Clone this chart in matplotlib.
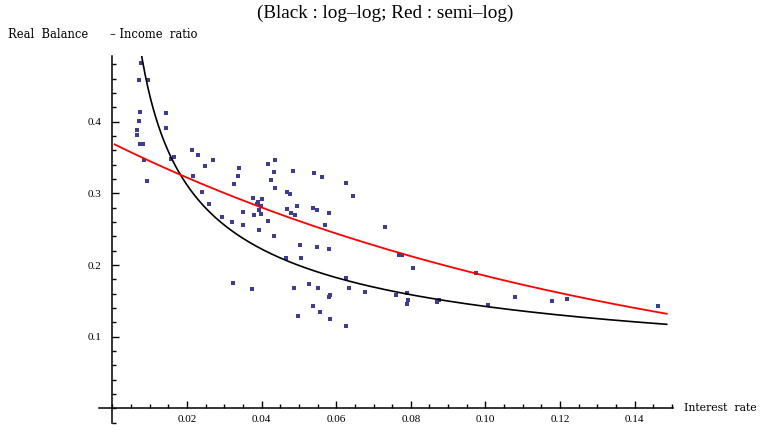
import numpy as np
import matplotlib.pyplot as plt
from matplotlib.ticker import MultipleLocator, FixedLocator

# scatter points
interest_rate = [0.00777, 0.00718, 0.00965, 0.00737, 0.01434, 0.00702, 0.01448, 0.00670,
                 0.00670, 0.00737, 0.00818, 0.00853, 0.00925, 0.01582, 0.01657, 0.02123,
                 0.02284, 0.02686, 0.02488, 0.02150, 0.02413, 0.02587, 0.02930, 0.03217,
                 0.03507, 0.03257, 0.03378, 0.03399, 0.04177, 0.04362, 0.04330, 0.04241,
                 0.04362, 0.03775, 0.03909, 0.04000, 0.03866, 0.03973, 0.03936, 0.03973,
                 0.03507, 0.03802, 0.04177, 0.03920, 0.04330, 0.04692, 0.04759, 0.04847,
                 0.04678, 0.04786, 0.04893, 0.04954, 0.05375, 0.05496, 0.05416, 0.05611,
                 0.05810, 0.05702, 0.06268, 0.06448, 0.05040, 0.05483, 0.05818, 0.04651,
                 0.05046, 0.07306, 0.07694, 0.07761, 0.08070, 0.09745, 0.06260, 0.03239,
                 0.03732, 0.04858, 0.05276, 0.05523, 0.05796, 0.05831, 0.06332, 0.06761,
                 0.07606, 0.07909, 0.07922, 0.07887, 0.08761, 0.08713, 0.10059, 0.10804,
                 0.11788, 0.12177, 0.14625, 0.05375, 0.05576, 0.04981, 0.05845, 0.06268]
balance_ratio = [0.4824, 0.4580, 0.4580, 0.4127, 0.4120, 0.4013, 0.3911, 0.3883,
                 0.3813, 0.3688, 0.3688, 0.3464, 0.3172, 0.3485, 0.3502, 0.3604,
                 0.3530, 0.3471, 0.3374, 0.3248, 0.3015, 0.2855, 0.2667, 0.2593,
                 0.2558, 0.3123, 0.3237, 0.3356, 0.3411, 0.3464, 0.3293, 0.3186,
                 0.3078, 0.2939, 0.2883, 0.2921, 0.2847, 0.2827, 0.2767, 0.2707,
                 0.2743, 0.2693, 0.2616, 0.2488, 0.2404, 0.3022, 0.2990, 0.3311,
                 0.2781, 0.2732, 0.2697, 0.2819, 0.2795, 0.2774, 0.3279, 0.3227,
                 0.2721, 0.2555, 0.3148, 0.2969, 0.2275, 0.2247, 0.2230, 0.2093,
                 0.2093, 0.2526, 0.2135, 0.2133, 0.1958, 0.1884, 0.1815, 0.1753,
                 0.1661, 0.1679, 0.1732, 0.1679, 0.1558, 0.1577, 0.1679, 0.1623,
                 0.1577, 0.1616, 0.1508, 0.1460, 0.1512, 0.1488, 0.1446, 0.1547,
                 0.1502, 0.1523, 0.1432, 0.1425, 0.1338, 0.1293, 0.1243, 0.1149]

# fitted models (coefficients)
loglog_a, loglog_b = 0.04635, -0.487     # y = a * x^b
semilog_a, semilog_b = 0.3697, -6.93     # y = a * exp(b x)

xticks = [0.02, 0.04, 0.06, 0.08, 0.10, 0.12, 0.14]
xticklabels = ['0.02', '0.04', '0.06', '0.08', '0.10', '0.12', '0.14']
yticks = [0.1, 0.2, 0.3, 0.4]
yticklabels = ['0.1', '0.2', '0.3', '0.4']

plt.rcParams['font.family'] = ['Liberation Serif', 'DejaVu Serif']

fig = plt.figure(figsize=(7.65, 4.32), dpi=100)
ax = fig.add_axes([0.1299, 0.0197, 0.7494, 0.8507])

xs = np.linspace(0.0006, 0.1486, 400)
ax.plot(xs, loglog_a * xs ** loglog_b, color='black', lw=1.2, zorder=3)
ax.plot(xs, semilog_a * np.exp(semilog_b * xs), color='#ff0000', lw=1.3, zorder=3)
ax.plot(interest_rate, balance_ratio, 's', color='#3d3d99', ms=3.5, mew=0, zorder=2)

ax.set_xlim(-0.0035, 0.1502)
ax.set_ylim(-0.021, 0.4915)

for s in ['top', 'right']:
    ax.spines[s].set_visible(False)
ax.spines['left'].set_position(('data', 0))
ax.spines['bottom'].set_position(('data', 0))
ax.spines['left'].set_linewidth(1.1)
ax.spines['bottom'].set_linewidth(1.1)

ax.xaxis.set_major_locator(FixedLocator(xticks))
ax.set_xticklabels(xticklabels)
ax.xaxis.set_minor_locator(MultipleLocator(0.005))
ax.yaxis.set_major_locator(FixedLocator(yticks))
ax.set_yticklabels(yticklabels)
ax.yaxis.set_minor_locator(MultipleLocator(0.02))

ax.tick_params(which='both', direction='in', width=1.0, labelsize=8)
ax.tick_params(which='major', length=5)
ax.tick_params(which='minor', length=3)
ax.tick_params(axis='x', pad=5)
ax.tick_params(axis='y', pad=8)

fig.text(0.503, 0.968, '(Black : log\u2013log; Red : semi\u2013log)', ha='center', va='center',
         fontsize=13.8)
fig.text(0.010, 0.919, 'Real  Balance      \u2013 Income  ratio', ha='left', va='center',
         fontsize=8.3, family='DejaVu Serif')
fig.text(0.894, 0.055, 'Interest  rate', ha='left', va='center', fontsize=7.8,
         family='DejaVu Serif')

fig.savefig('out.png', dpi=100)
